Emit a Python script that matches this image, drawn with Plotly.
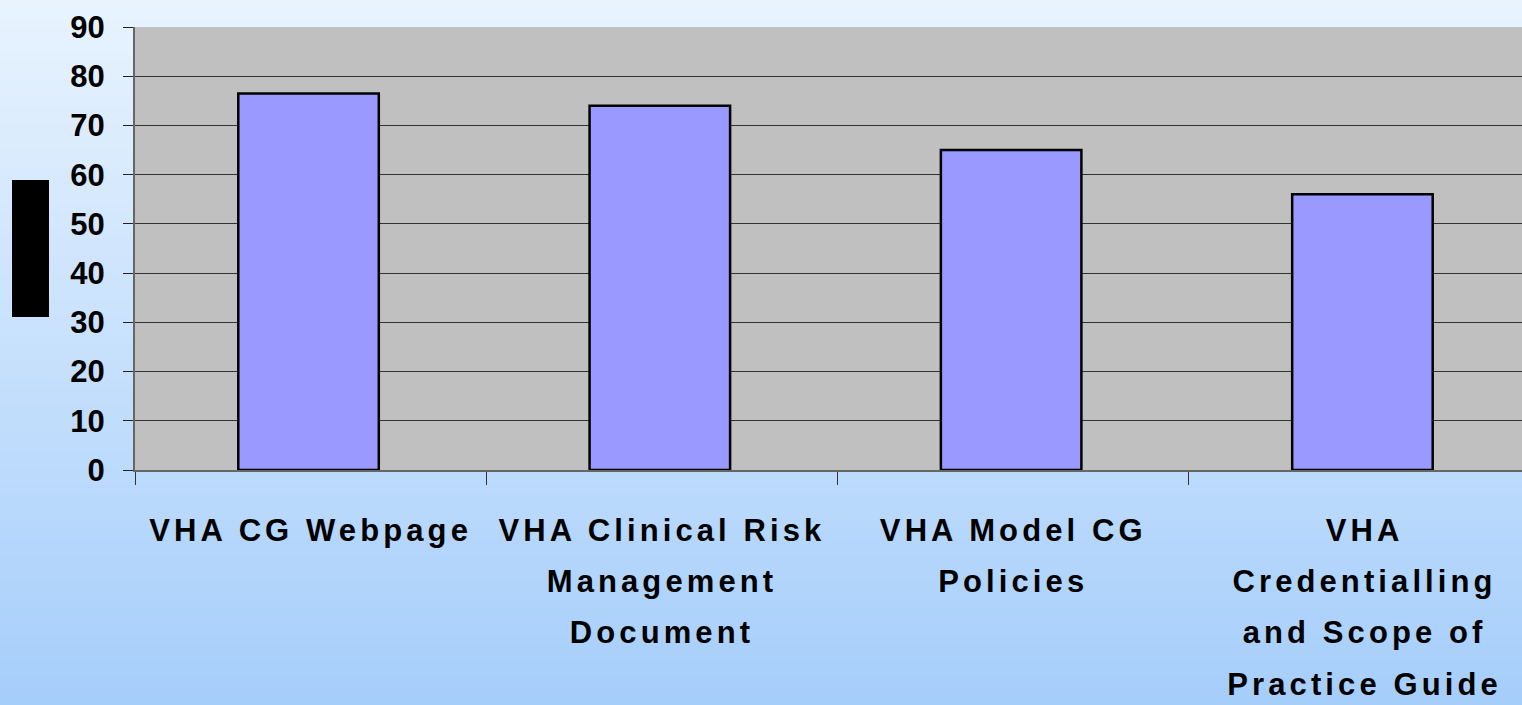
import plotly.graph_objects as go

# ---- data ----
categories = ["VHA CG Webpage", "VHA Clinical Risk Management Document",
              "VHA Model CG Policies", "VHA Credentialling and Scope of Practice Guide"]
label_lines = [["VHA CG Webpage"],
               ["VHA Clinical Risk", "Management", "Document"],
               ["VHA Model CG", "Policies"],
               ["VHA", "Credentialling", "and Scope of", "Practice Guide"]]
values = [76.5, 74, 65, 56]
y_ticks = [0, 10, 20, 30, 40, 50, 60, 70, 80, 90]

# ---- layout geometry (pixels) ----
W, H = 1522, 705
ML, MR, MT, MB = 135, 0, 27, 235
PW, PH = W - ML - MR, H - MT - MB

FONT = "Arial, 'Liberation Sans', Helvetica, sans-serif"

def fmt(lines):
    return "<br>".join(
        "<span style='font-size:31px;letter-spacing:4.1px'>%s</span>" % l for l in lines)

ticktext = [fmt(l) for l in label_lines]

fig = go.Figure()
fig.add_trace(go.Bar(
    x=categories, y=values, width=0.4, offset=-0.206,
    marker=dict(color="#9999ff", line=dict(color="#000000", width=2.5)),
    hoverinfo="x+y",
))

# gradient background for the whole page
shapes = []
top = (232, 243, 254)
bot = (166, 206, 251)
N = 80
for i in range(N):
    f = i / (N - 1)
    c = tuple(round(top[k] + (bot[k] - top[k]) * f) for k in range(3))
    py0 = H * i / N
    py1 = H * (i + 1) / N + 1
    shapes.append(dict(
        type="rect", xref="paper", yref="paper", layer="below",
        x0=-ML / PW, x1=1 + 0.01,
        y0=1 - (py1 - MT) / PH, y1=1 - (py0 - MT) / PH,
        fillcolor="rgb(%d,%d,%d)" % c, line=dict(width=0)))
# grey plot area
shapes.append(dict(type="rect", xref="x domain", yref="y domain", layer="below",
                   x0=0, x1=1, y0=0, y1=1, fillcolor="#c0c0c0", line=dict(width=0)))
# black box at left
shapes.append(dict(type="rect", xref="paper", yref="paper", layer="above",
                   x0=(12 - ML) / PW, x1=(49 - ML) / PW,
                   y0=1 - (317 - MT) / PH, y1=1 - (180 - MT) / PH,
                   fillcolor="#000000", line=dict(width=0)))

fig.update_layout(
    width=W, height=H, autosize=False,
    margin=dict(l=ML, r=MR, t=MT, b=MB, pad=0, autoexpand=False),
    paper_bgcolor="#a6cefb",
    plot_bgcolor="rgba(0,0,0,0)",
    showlegend=False,
    bargap=0.6,
    shapes=shapes,
    font=dict(family=FONT, color="#000000"),
)

fig.update_xaxes(
    type="category", range=[-0.5, -0.5 + PW / 351.3],
    tickmode="array", tickvals=categories, ticktext=ticktext,
    tickson="boundaries", ticks="outside", ticklen=13, tickwidth=1, tickcolor="#333333",
    tickangle=0, ticklabelstandoff=21, automargin=False,
    tickfont=dict(family=FONT, size=39.6, color="#000000", weight="bold"),
    showline=True, linecolor="#666666", linewidth=2,
    showgrid=False, zeroline=False, fixedrange=True,
)
fig.update_yaxes(
    range=[0, 90], tickmode="array", tickvals=y_ticks,
    ticks="outside", ticklen=10, tickwidth=1, tickcolor="#222222",
    ticklabelstandoff=12, automargin=False,
    tickfont=dict(family=FONT, size=31, color="#000000", weight="bold"),
    showline=True, linecolor="#666666", linewidth=2,
    showgrid=True, gridcolor="#333333", gridwidth=1,
    zeroline=False, fixedrange=True,
)

fig.write_html("out.html", config={"displayModeBar": False},
               post_script="document.body.style.margin='0px';document.body.style.overflow='hidden';")
